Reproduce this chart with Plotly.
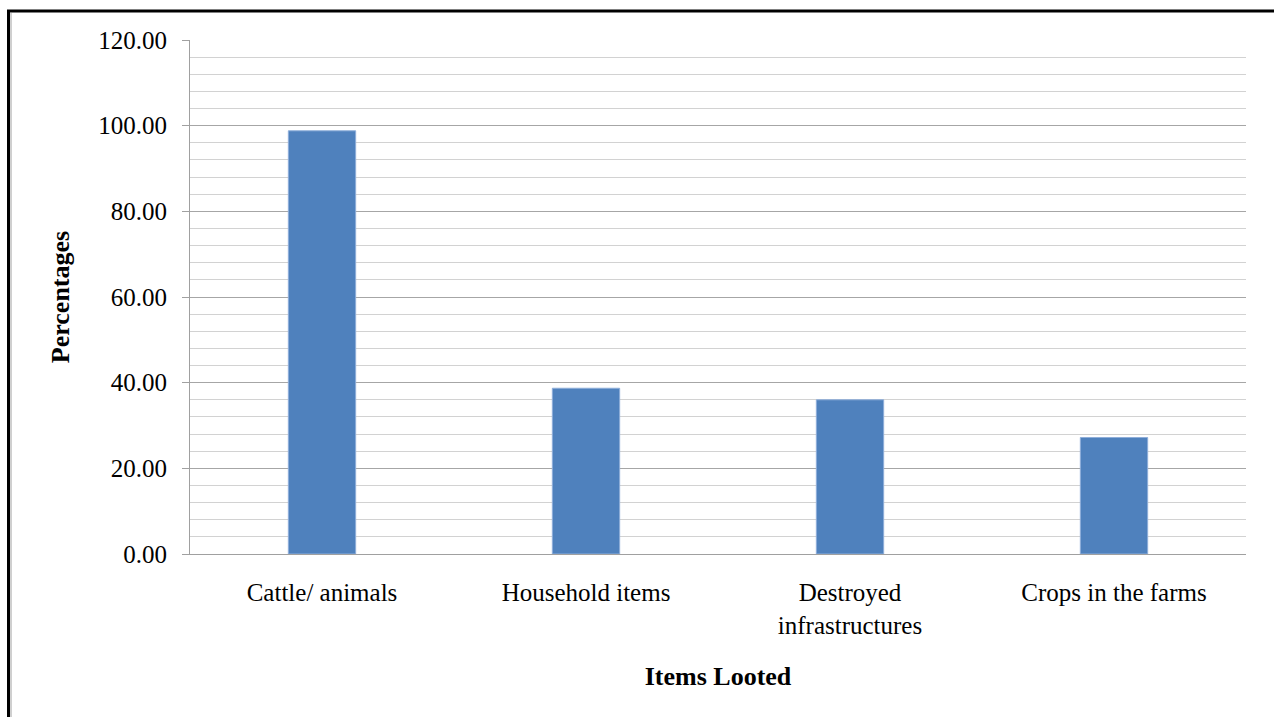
import plotly.graph_objects as go

categories = ["Cattle/ animals", "Household items", "Destroyed<br>infrastructures", "Crops in the farms"]
percentages = [98.8, 38.7, 36.0, 27.2]
y_tick_values = [0, 20, 40, 60, 80, 100, 120]
y_tick_labels = ["0.00", "20.00", "40.00", "60.00", "80.00", "100.00", "120.00"]

W, H = 1274, 717
L, R, T, B = 190, 28, 40, 163
pw, ph = W - L - R, H - T - B

def px_x(x):
    return (x - L) / pw

def px_y(y):
    return (H - B - y) / ph

fig = go.Figure(go.Bar(
    x=categories, y=percentages,
    marker=dict(color="#4F81BD", line=dict(color="#8EAEDA", width=1)),
    width=0.255,
))

font = "Liberation Serif, Times New Roman, serif"
fig.update_layout(
    width=W, height=H,
    margin=dict(l=L, r=R, t=T, b=B),
    paper_bgcolor="white", plot_bgcolor="white",
    showlegend=False,
    font=dict(family=font, color="black", size=25),
    bargap=0.745,
    xaxis=dict(
        showgrid=False, showline=True, linecolor="#A0A0A0", linewidth=1,
        ticks="", tickfont=dict(size=25, family=font), ticklabelstandoff=16,
        title=dict(text="<b>Items Looted</b>", font=dict(size=26, family=font), standoff=29),
    ),
    yaxis=dict(
        range=[0, 120], tickvals=y_tick_values, ticktext=y_tick_labels,
        showgrid=True, gridcolor="#A6A6A6", gridwidth=1,
        showline=True, linecolor="#A0A0A0", linewidth=1,
        ticks="outside", ticklen=7, tickcolor="#A0A0A0",
        tickfont=dict(size=25, family=font), ticklabelstandoff=10,
        minor=dict(dtick=4, showgrid=True, gridcolor="#D2D2D2", gridwidth=1, ticks=""),
        zeroline=False,
        title=dict(text="<b>Percentages</b>", font=dict(size=26, family=font), standoff=21),
    ),
    shapes=[
        dict(type="line", xref="paper", yref="paper",
             x0=px_x(7), x1=px_x(1280), y0=px_y(11), y1=px_y(11),
             line=dict(color="black", width=3)),
        dict(type="line", xref="paper", yref="paper",
             x0=px_x(8.5), x1=px_x(8.5), y0=px_y(10), y1=px_y(725),
             line=dict(color="black", width=3)),
        dict(type="line", xref="paper", yref="paper",
             x0=px_x(11), x1=px_x(11), y0=px_y(13), y1=px_y(725),
             line=dict(color="#A0A0A0", width=1)),
    ],
)

fig.write_html("out.html")
